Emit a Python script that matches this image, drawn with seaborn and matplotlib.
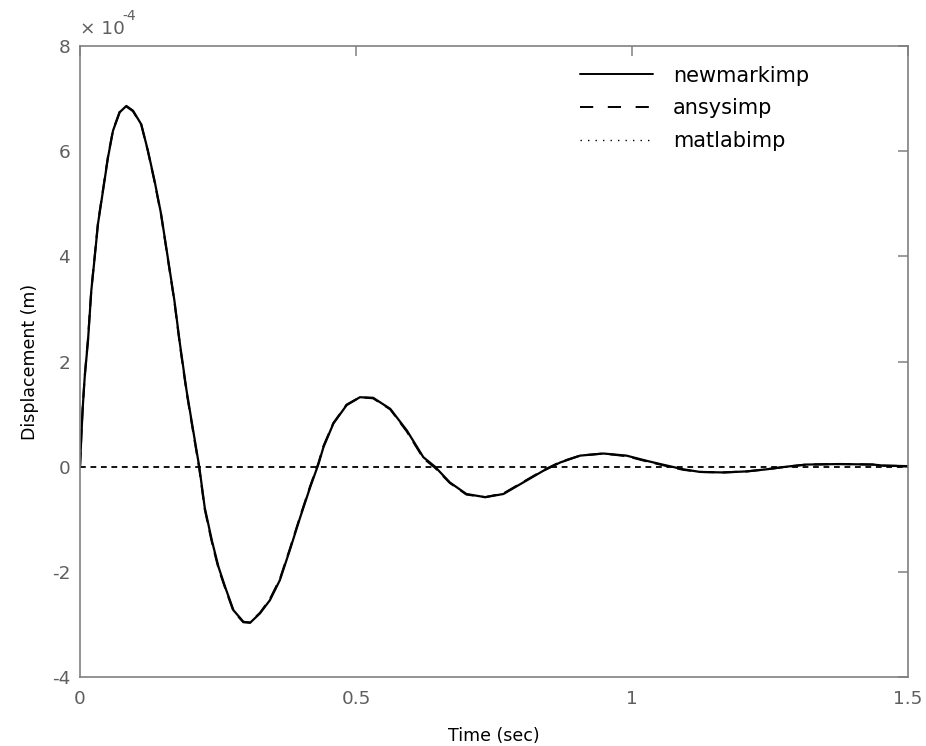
import numpy as np
import pandas as pd
import matplotlib
matplotlib.use("Agg")
import matplotlib.pyplot as plt
import seaborn as sns
from matplotlib.lines import Line2D

# ---- data (time in s, displacement in units of 1e-4 m) ----
time_s = [0, 0.0025, 0.005, 0.0085, 0.0145, 0.0205, 0.0266, 0.0326, 0.0417, 0.0507,
          0.0598, 0.0719, 0.0839, 0.096, 0.111, 0.123, 0.135, 0.147, 0.159, 0.171,
          0.181, 0.193, 0.205, 0.216, 0.226, 0.239, 0.251, 0.263, 0.278, 0.296,
          0.308, 0.326, 0.344, 0.362, 0.380, 0.399, 0.417, 0.432, 0.441, 0.459,
          0.483, 0.507, 0.531, 0.562, 0.592, 0.622, 0.643, 0.670, 0.700, 0.734,
          0.767, 0.803, 0.839, 0.870, 0.906, 0.948, 0.990, 1.027, 1.051, 1.093,
          1.123, 1.165, 1.208, 1.244, 1.280, 1.316, 1.377, 1.437, 1.455, 1.5]

newmarkimp = [0, 0.60, 1.13, 1.70, 2.40, 3.35, 3.98, 4.62, 5.25, 5.88,
              6.39, 6.74, 6.86, 6.77, 6.51, 6.01, 5.44, 4.80, 3.98, 3.16,
              2.34, 1.45, 0.69, 0.0, -0.78, -1.41, -1.91, -2.29, -2.73, -2.95,
              -2.97, -2.79, -2.54, -2.16, -1.59, -0.96, -0.39, 0.05, 0.37, 0.82,
              1.17, 1.32, 1.31, 1.10, 0.69, 0.18, 0.0, -0.30, -0.52, -0.58,
              -0.52, -0.30, -0.08, 0.08, 0.21, 0.25, 0.21, 0.11, 0.05, -0.05,
              -0.10, -0.11, -0.09, -0.05, 0.0, 0.04, 0.05, 0.04, 0.02, 0.01]

ansysimp = [0, 0.62, 1.15, 1.72, 2.43, 3.37, 4.00, 4.64, 5.27, 5.90,
            6.40, 6.75, 6.85, 6.76, 6.50, 6.00, 5.42, 4.78, 3.96, 3.14,
            2.31, 1.42, 0.66, -0.03, -0.81, -1.44, -1.94, -2.31, -2.75, -2.96,
            -2.96, -2.78, -2.52, -2.14, -1.57, -0.94, -0.37, 0.07, 0.39, 0.83,
            1.18, 1.32, 1.30, 1.09, 0.67, 0.16, -0.02, -0.31, -0.53, -0.58,
            -0.51, -0.29, -0.07, 0.09, 0.21, 0.25, 0.20, 0.10, 0.04, -0.06,
            -0.10, -0.11, -0.09, -0.05, 0.0, 0.04, 0.05, 0.04, 0.02, 0.01]

matlabimp = [0.0] * len(time_s)

series_names = ["newmarkimp", "ansysimp", "matlabimp"]
x_ticks = [0, 0.5, 1, 1.5]
x_tick_labels = ["0", "0.5", "1", "1.5"]
y_ticks_e4 = [-4, -2, 0, 2, 4, 6, 8]
y_tick_labels = ["-4", "-2", "0", "2", "4", "6", "8"]

# ---- style ----
sns.set_theme(style="white")
plt.rcParams["font.family"] = ["DejaVu Sans"]
plt.rcParams["axes.unicode_minus"] = False

fig = plt.figure(figsize=(9.26, 7.46), dpi=100)
ax = fig.add_axes([80 / 926, 1 - 677 / 746, 828 / 926, 631 / 746])

t = np.array(time_s)
df = pd.DataFrame({
    "t": np.concatenate([t, t, t]),
    "d": np.concatenate([np.array(newmarkimp), np.array(ansysimp), np.array(matlabimp)]) * 1e-4,
    "s": sum([[n] * len(t) for n in series_names], []),
})

styles = {"newmarkimp": "-", "ansysimp": (0, (7, 4)), "matlabimp": (0, (3.2, 2.6))}
widths = {"newmarkimp": 1.6, "ansysimp": 1.5, "matlabimp": 1.3}
for name in series_names:
    sub = df[df["s"] == name]
    sns.lineplot(data=sub, x="t", y="d", ax=ax, color="black", linewidth=widths[name],
                 linestyle=styles[name], estimator=None, sort=False, legend=False)

ax.set_xlim(0, 1.5)
ax.set_ylim(-4e-4, 8e-4)
ax.set_xticks(x_ticks)
ax.set_xticklabels(x_tick_labels)
ax.set_yticks(np.array(y_ticks_e4) * 1e-4)
ax.set_yticklabels(y_tick_labels)

grey = "#808080"
for sp in ax.spines.values():
    sp.set_color(grey)
    sp.set_linewidth(1.2)
    sp.set_visible(True)
ax.tick_params(axis="both", direction="in", length=7, width=1.1, color=grey,
               labelcolor="#5f5f5f", labelsize=13.3, top=True, right=True)
ax.tick_params(axis="y", pad=7)
ax.tick_params(axis="x", pad=9)

ax.set_xlabel("Time (sec)", fontsize=12.5, color="black", labelpad=14)
ax.set_ylabel("Displacement (m)", fontsize=12.5, color="black", labelpad=9)

# exponent label (x 10^-4) above the y axis
fig.text(80 / 926, 1 - 29 / 746, "\u00d7 10", fontsize=13.3, color="#5f5f5f",
         ha="left", va="center")
fig.text(122 / 926, 1 - 16 / 746, "-4", fontsize=10, color="#5f5f5f",
         ha="left", va="center")

handles = [
    Line2D([], [], color="black", lw=1.4, linestyle="-"),
    Line2D([], [], color="black", lw=1.4, linestyle=(0, (6.8, 7.5))),
    Line2D([], [], color="black", lw=1.0, linestyle=(0, (1, 4.4))),
]
leg = ax.legend(handles, series_names, loc="upper left", bbox_to_anchor=(0.604, 0.969),
                frameon=False, fontsize=15, handlelength=3.5, handletextpad=0.95,
                borderpad=0, borderaxespad=0, labelspacing=0.62)
for txt in leg.get_texts():
    txt.set_color("black")

fig.savefig("out.png", dpi=100)
